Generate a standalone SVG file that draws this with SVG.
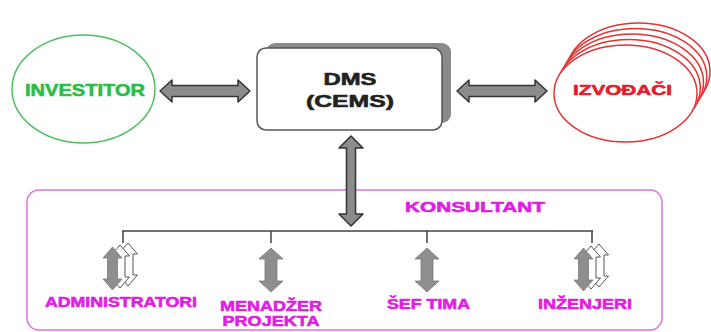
<svg xmlns="http://www.w3.org/2000/svg" width="711" height="332" viewBox="0 0 711 332">
<style>
text{font-family:"Liberation Sans",Arial,sans-serif;font-weight:bold;text-anchor:middle;stroke-width:0.6;stroke-linejoin:round}
.g{fill:#2cbc48;stroke:#2cbc48;font-size:17px}
.r{fill:#e0202c;stroke:#e0202c;font-size:14.5px}
.m{fill:#e020e0;stroke:#e020e0;font-size:14.5px}
.k{fill:#222;stroke:#222;font-size:17px}
.big{fill:#8c8c8c;stroke:#333;stroke-width:1.5;stroke-linejoin:round}
.sm{fill:#8e8e8e;stroke:#7a7a7a;stroke-width:0.8}
.wh{fill:#fff;stroke:#555;stroke-width:1}
.ln{stroke:#444;stroke-width:1.5;fill:none}
.red{fill:#fff;stroke:#e03434;stroke-width:1.5}
</style>
<defs>
<path id="sa" d="M0,0 L12,11 L6,11 L6,33 L12,33 L0,44 L-12,33 L-6,33 L-6,11 L-12,11 Z"/>
<path id="fa" d="M0,0 L9.5,11 L5,11 L5,32 L9.5,32 L0,43 L-9.5,32 L-5,32 L-5,11 L-9.5,11 Z"/>
</defs>
<rect width="711" height="332" fill="#fff"/>

<g id="konsultant">
<rect x="27" y="190" width="635" height="140" rx="12" fill="none" stroke="#e070e0" stroke-width="1.5"/>
<text class="m" x="475" y="212" textLength="140" lengthAdjust="spacingAndGlyphs">KONSULTANT</text>
</g>

<g id="investitor">
<ellipse cx="83.5" cy="89" rx="71.5" ry="54" fill="#fff" stroke="#4cc060" stroke-width="1.5"/>
<text class="g" x="85" y="96" textLength="120" lengthAdjust="spacingAndGlyphs">INVESTITOR</text>
</g>

<g id="dms">
<rect x="266" y="43" width="185" height="80" rx="9" fill="#8a8a8a"/>
<rect x="257" y="48" width="185" height="82" rx="9" fill="#fff" stroke="#555" stroke-width="1.5"/>
<text class="k" x="350" y="85" textLength="53" lengthAdjust="spacingAndGlyphs">DMS</text>
<text class="k" x="350" y="107" textLength="88" lengthAdjust="spacingAndGlyphs">(CEMS)</text>
</g>

<g id="izvodjaci">
<ellipse class="red" cx="638.5" cy="71.5" rx="71.5" ry="48.5"/>
<ellipse class="red" cx="635.3" cy="77" rx="71.5" ry="48.5"/>
<ellipse class="red" cx="632" cy="82.5" rx="71.5" ry="48.5"/>
<ellipse class="red" cx="628.8" cy="88" rx="71.5" ry="48.5"/>
<ellipse class="red" cx="625.5" cy="93.5" rx="71.5" ry="48.5"/>
<text class="r" x="622.5" y="95" textLength="99" lengthAdjust="spacingAndGlyphs">IZVOĐAČI</text>
</g>

<g id="connectors">
<polygon class="big" points="160,91 172,80 172,85.5 238,85.5 238,80 250,91 238,102 238,96.5 172,96.5 172,102"/>
<polygon class="big" points="457,91 469,80 469,85.5 535,85.5 535,80 547,91 535,102 535,96.5 469,96.5 469,102"/>
<polygon class="big" points="351,136 363,148 355.5,148 355.5,214 363,214 351,226 339,214 346.5,214 346.5,148 339,148"/>
<path class="ln" d="M122,231 H593 M123,231 V243 M271,231 V243 M427,231 V243 M592,231 V243"/>
</g>

<g id="administratori">
<use href="#fa" class="wh" transform="translate(128,243)"/>
<use href="#fa" class="wh" transform="translate(120,245)"/>
<use href="#fa" class="sm" transform="translate(112.5,247)"/>
<text class="m" x="121" y="307" textLength="152" lengthAdjust="spacingAndGlyphs">ADMINISTRATORI</text>
</g>

<g id="menadzer">
<use href="#sa" class="sm" transform="translate(271,248)"/>
<text class="m" x="271" y="311" textLength="102" lengthAdjust="spacingAndGlyphs">MENADŽER</text>
<text class="m" x="271" y="326" textLength="97" lengthAdjust="spacingAndGlyphs">PROJEKTA</text>
</g>

<g id="sef-tima">
<use href="#sa" class="sm" transform="translate(427,248)"/>
<text class="m" x="428.5" y="309" textLength="83" lengthAdjust="spacingAndGlyphs">ŠEF TIMA</text>
</g>

<g id="inzenjeri">
<use href="#fa" class="wh" transform="translate(599,244)"/>
<use href="#fa" class="wh" transform="translate(591,246)"/>
<use href="#fa" class="sm" transform="translate(583.5,248)"/>
<text class="m" x="585" y="309" textLength="94" lengthAdjust="spacingAndGlyphs">INŽENJERI</text>
</g>
</svg>
